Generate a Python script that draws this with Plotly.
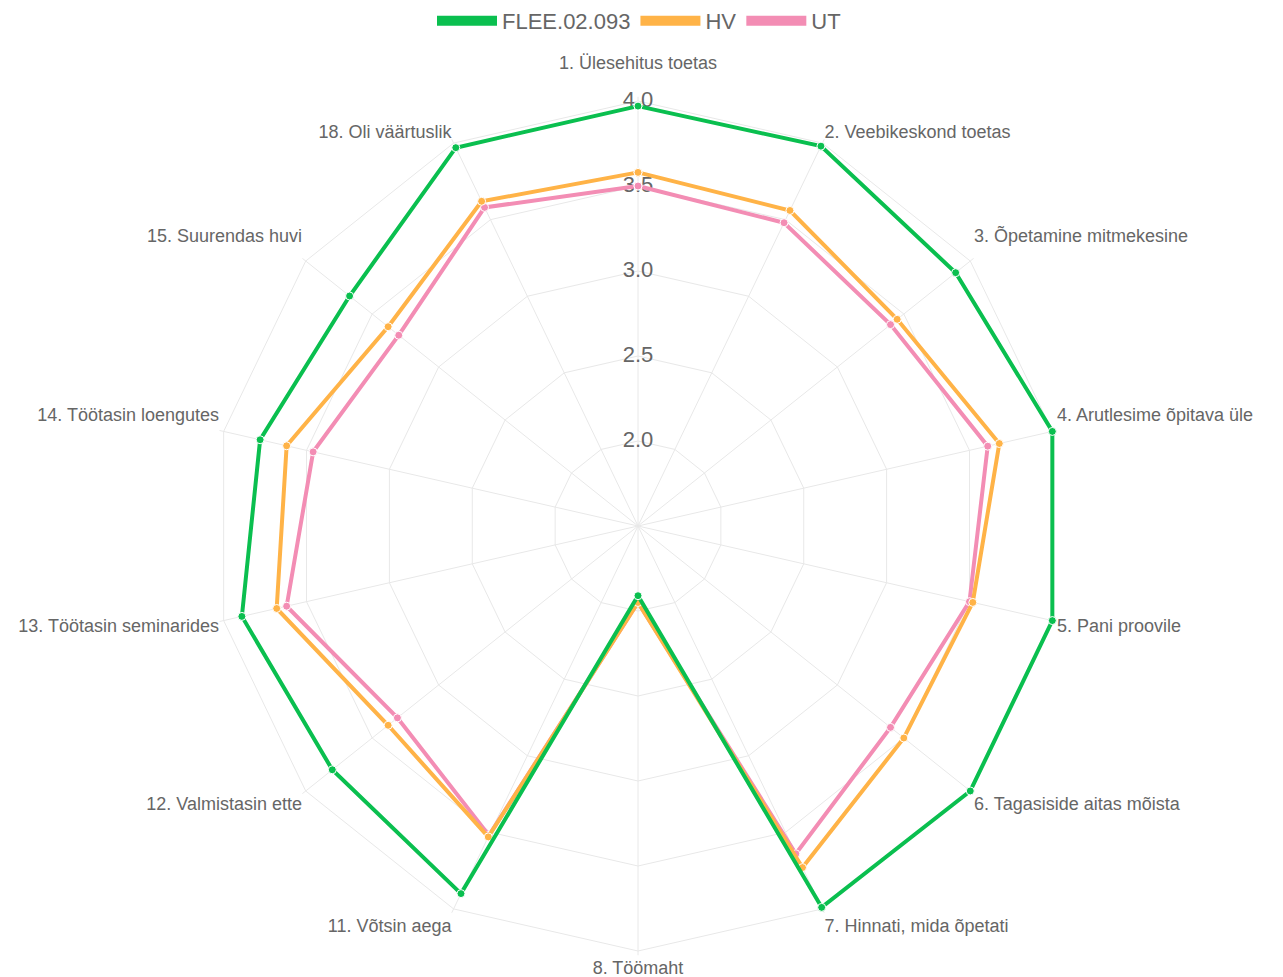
import plotly.graph_objects as go

categories = ["1. Ülesehitus toetas", "2. Veebikeskond toetas", "3. Õpetamine mitmekesine",
              "4. Arutlesime õpitava üle", "5. Pani proovile", "6. Tagasiside aitas mõista",
              "7. Hinnati, mida õpetati", "8. Töömaht", "11. Võtsin aega", "12. Valmistasin ette",
              "13. Töötasin seminarides", "14. Töötasin loengutes", "15. Suurendas huvi",
              "18. Oli väärtuslik"]

flee = [3.97, 3.98, 3.89, 4.00, 4.00, 4.00, 3.99, 1.91, 3.90, 3.80, 3.89, 3.78, 3.67, 3.97]
hv = [3.58, 3.56, 3.45, 3.68, 3.52, 3.50, 3.73, 1.95, 3.53, 3.38, 3.68, 3.62, 3.38, 3.62]
ut = [3.50, 3.48, 3.40, 3.61, 3.50, 3.40, 3.64, 1.95, 3.52, 3.31, 3.62, 3.46, 3.30, 3.58]

tick_vals = [2.0, 2.5, 3.0, 3.5, 4.0]
tick_text = ["2.0", "2.5", "3.0", "3.5", "4.0"]

r_min, r_max = 1.5, 4.025   # a little headroom so the outer line is not clipped

series = [("UT", ut, "#f38db4"), ("HV", hv, "#ffb347"), ("FLEE.02.093", flee, "#0abf4f")]

FONT = "Liberation Sans, Arial, sans-serif"
GRID = "#e8e8e8"
NB = "\u00a0"

# point-label layout: most labels in the upper half sit above their anchor (as in Chart.js)
n = len(categories)
raised = {0, 2, 3, n - 3, n - 2}
point_labels = [c + "<br>" + NB if i in raised else c for i, c in enumerate(categories)]

fig = go.Figure()

# radial tick labels centred on the vertical spoke
fig.add_trace(go.Scatterpolar(
    r=tick_vals, theta=[categories[0]] * len(tick_vals), text=tick_text,
    mode="text", textposition="middle center", cliponaxis=False,
    textfont=dict(size=22, color="#666666", family=FONT),
    showlegend=False, hoverinfo="skip"))

for name, vals, color in series:
    fig.add_trace(go.Scatterpolar(
        r=vals + vals[:1], theta=categories + categories[:1], name=name,
        mode="lines+markers", cliponaxis=False, legendgroup=name, showlegend=False,
        line=dict(color=color, width=4),
        marker=dict(color=color, size=8, line=dict(color="white", width=1)),
    ))

# legend swatches (empty traces, box-like thick lines)
for name, vals, color in series:
    fig.add_trace(go.Scatterpolar(
        r=[None], theta=[categories[0]], name=name, mode="lines", legendgroup=name,
        line=dict(color=color, width=26), hoverinfo="skip"))

W, H = 1283, 977
cx, cy = 638, 526
R = 425 * (r_max - r_min) / (4.0 - r_min)

fig.update_layout(
    width=W, height=H,
    margin=dict(l=0, r=0, t=0, b=0),
    paper_bgcolor="white",
    font=dict(family=FONT, color="#666666"),
    legend=dict(orientation="h", x=639 / W, xanchor="center", y=1, yanchor="top",
                font=dict(size=22, color="#666666"), traceorder="reversed",
                itemwidth=60),
    polar=dict(
        domain=dict(x=[(cx - R) / W, (cx + R) / W], y=[(H - cy - R) / H, (H - cy + R) / H]),
        bgcolor="white",
        gridshape="linear",
        radialaxis=dict(range=[r_min, r_max], tickvals=tick_vals, showticklabels=False,
                        showline=False, ticks="", gridcolor=GRID, gridwidth=1.2),
        angularaxis=dict(rotation=90, direction="clockwise", categoryorder="array",
                         categoryarray=categories, tickmode="array", tickvals=categories,
                         ticktext=point_labels, ticks="", showline=False,
                         gridcolor=GRID, gridwidth=1.2,
                         tickfont=dict(size=18, color="#666666", family=FONT)),
    ),
)

fig.write_html("out.html", config={"displayModeBar": False},
               post_script="document.body.style.margin='0';")
